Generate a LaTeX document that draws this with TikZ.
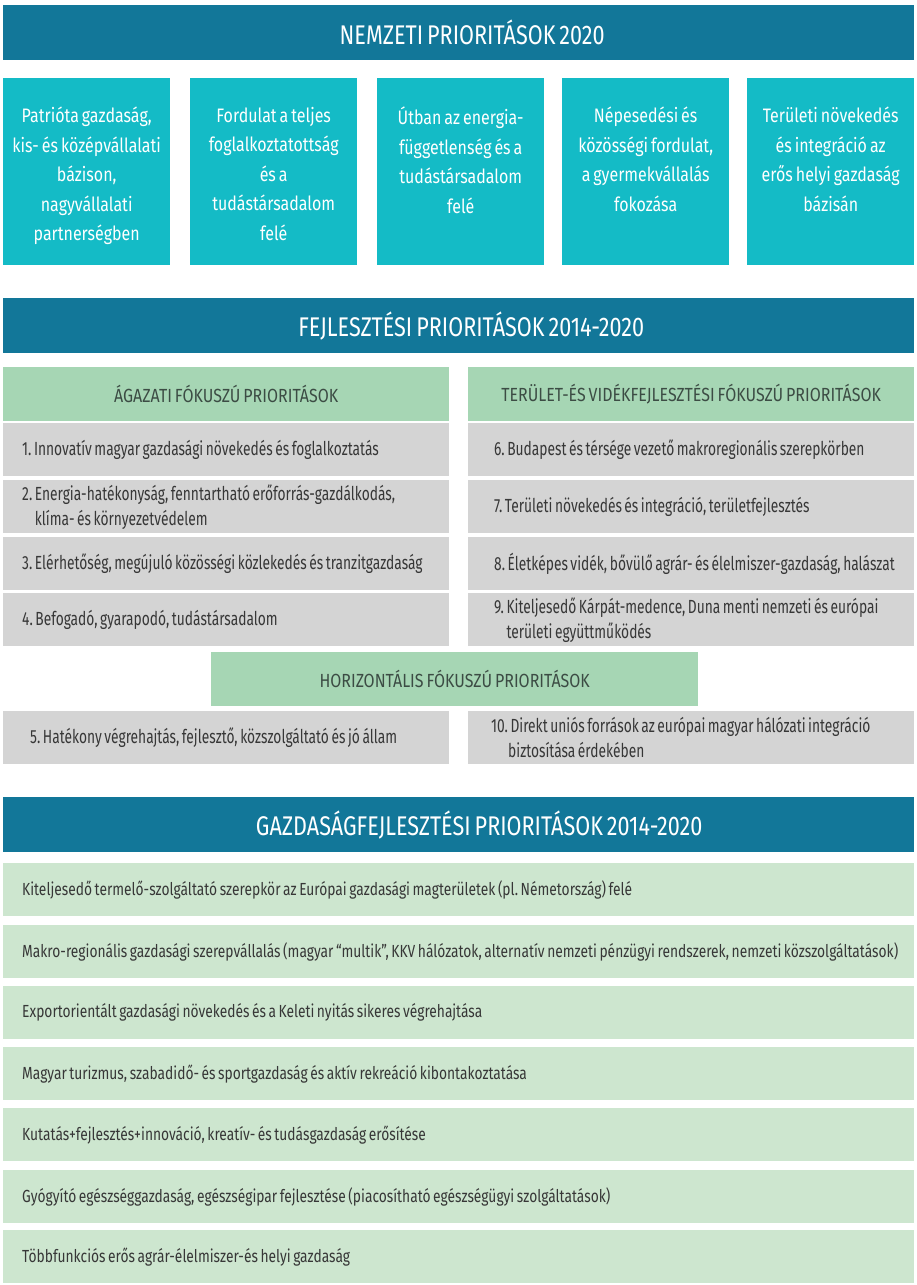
\documentclass[tikz,border=0pt]{standalone}
\usepackage{fontspec}
\setmainfont[FakeStretch=0.7, WordSpace=0.7]{Fira Sans}
\newfontfamily\hdrfont[FakeStretch=0.80, WordSpace=0.7]{Fira Sans}
\newfontfamily\tealfont[FakeStretch=0.82, WordSpace=0.7]{Fira Sans}
\newfontfamily\subfont[FakeStretch=0.84, WordSpace=0.7]{Fira Sans}
\newfontfamily\rowfont[FakeStretch=0.725, WordSpace=0.7]{Fira Sans}
\newfontfamily\bfont[FakeStretch=0.788, WordSpace=0.7]{Fira Sans}
\frenchspacing
\definecolor{hdrblue}{RGB}{18,119,153}
\definecolor{tealc}{RGB}{20,187,198}
\definecolor{greenh}{RGB}{166,214,180}
\definecolor{grayc}{RGB}{212,212,212}
\definecolor{lgreen}{RGB}{205,230,207}
\definecolor{rowtxt}{RGB}{55,55,55}
\definecolor{subtxt}{RGB}{60,76,68}
\tikzset{
  hdr/.style={fill=hdrblue, text=white, anchor=north west, inner sep=0pt,
    minimum width=911pt, minimum height=55pt, font=\hdrfont\fontsize{27}{30}\selectfont},
  tealbox/.style={fill=tealc, anchor=north west, inner sep=0pt,
    minimum width=167pt, minimum height=187pt},
  tealtxt/.style={text=white, anchor=north, inner sep=0pt, align=center,
    font=\tealfont\fontsize{19.5}{29.5}\selectfont},
  subhdr/.style={fill=greenh, text=subtxt, anchor=north west, inner sep=0pt,
    minimum height=54pt, font=\subfont\fontsize{19}{22}\selectfont},
  graybox/.style={fill=grayc, anchor=north west, inner sep=0pt,
    minimum width=446pt, minimum height=53pt},
  rowtext/.style={text=rowtxt, anchor=west, inner sep=0pt, align=left,
    font=\rowfont\fontsize{19}{25}\selectfont},
  greenbox/.style={fill=lgreen, anchor=north west, inner sep=0pt,
    minimum width=911pt, minimum height=53pt},
  btext/.style={text=rowtxt, anchor=west, inner sep=0pt, align=left,
    font=\bfont\fontsize{17.5}{24}\selectfont},
}
\begin{document}
\begin{tikzpicture}[x=1pt,y=-1pt]
\useasboundingbox[fill=white] (0,0) rectangle (916,1285);
% ---- Nemzeti prioritasok
\node[hdr] (h1) at (3,5) {\hspace*{27pt}NEMZETI PRIORITÁSOK 2020};
\node[tealbox] (t1) at (3,78) {};
\node[tealbox] (t2) at (190,78) {};
\node[tealbox] (t3) at (377,78) {};
\node[tealbox] (t4) at (562,78) {};
\node[tealbox] (t5) at (747,78) {};
\node[tealtxt] (tt1) at ([yshift=-29pt]t1.north) {Patrióta gazdaság,\\kis- és középvállalati\\bázison,\\nagyvállalati\\partnerségben};
\node[tealtxt] (tt2) at ([yshift=-29pt]t2.north) {Fordulat a teljes\\foglalkoztatottság\\és a\\tudástársadalom\\felé};
\node[tealtxt] (tt3) at ([yshift=-29pt]t3.north) {Útban az energia-\\függetlenség és a\\tudástársadalom\\felé};
\node[tealtxt] (tt4) at ([yshift=-29pt]t4.north) {Népesedési és\\közösségi fordulat,\\a gyermekvállalás\\fokozása};
\node[tealtxt] (tt5) at ([yshift=-29pt]t5.north) {Területi növekedés\\és integráció az\\erős helyi gazdaság\\bázisán};
% ---- Fejlesztesi prioritasok
\node[hdr] (h2) at (3,298) {\hspace*{25pt}FEJLESZTÉSI PRIORITÁSOK 2014-2020};
\node[subhdr, minimum width=446pt] (sl) at (3,367) {ÁGAZATI FÓKUSZÚ PRIORITÁSOK};
\node[subhdr, minimum width=446pt] (sr) at (468,367) {TERÜLET-ÉS VIDÉKFEJLESZTÉSI FÓKUSZÚ PRIORITÁSOK};
\node[graybox] (g1) at (3,423) {};
\node[graybox] (g2) at (3,480) {};
\node[graybox] (g3) at (3,537) {};
\node[graybox] (g4) at (3,593) {};
\node[graybox] (g6) at (468,423) {};
\node[graybox] (g7) at (468,480) {};
\node[graybox] (g8) at (468,537) {};
\node[graybox] (g9) at (468,593) {};
\node[rowtext] (r1) at ([xshift=19pt]g1.west) {1. Innovatív magyar gazdasági növekedés és foglalkoztatás};
\node[rowtext] (r2) at ([xshift=19pt]g2.west) {2. Energia-hatékonyság, fenntartható erőforrás-gazdálkodás,\\\phantom{2. }klíma- és környezetvédelem};
\node[rowtext] (r3) at ([xshift=19pt]g3.west) {3. Elérhetőség, megújuló közösségi közlekedés és tranzitgazdaság};
\node[rowtext] (r4) at ([xshift=19pt]g4.west) {4. Befogadó, gyarapodó, tudástársadalom};
\node[rowtext] (r6) at ([xshift=26pt]g6.west) {6. Budapest és térsége vezető makroregionális szerepkörben};
\node[rowtext] (r7) at ([xshift=26pt]g7.west) {7. Területi növekedés és integráció, területfejlesztés};
\node[rowtext] (r8) at ([xshift=26pt]g8.west) {8. Életképes vidék, bővülő agrár- és élelmiszer-gazdaság, halászat};
\node[rowtext] (r9) at ([xshift=26pt]g9.west) {9. Kiteljesedő Kárpát-medence, Duna menti nemzeti és európai\\\phantom{9. }területi együttműködés};
\node[subhdr, minimum width=487pt] (sh) at (211,652) {HORIZONTÁLIS FÓKUSZÚ PRIORITÁSOK};
\node[graybox] (g5) at (3,711) {};
\node[graybox] (g10) at (468,711) {};
\node[rowtext] (r5) at ([xshift=27pt]g5.west) {5. Hatékony végrehajtás, fejlesztő, közszolgáltató és jó állam};
\node[rowtext] (r10) at ([xshift=23pt]g10.west) {10. Direkt uniós források az európai magyar hálózati integráció\\\hspace*{17pt}biztosítása érdekében};
% ---- Gazdasagfejlesztesi prioritasok
\node[hdr] (h3) at (3,797) {\hspace*{41pt}GAZDASÁGFEJLESZTÉSI PRIORITÁSOK 2014-2020};
\node[greenbox] (e1) at (3,863) {};
\node[greenbox] (e2) at (3,925) {};
\node[greenbox] (e3) at (3,986) {};
\node[greenbox] (e4) at (3,1047) {};
\node[greenbox] (e5) at (3,1108) {};
\node[greenbox] (e6) at (3,1170) {};
\node[greenbox] (e7) at (3,1230) {};
\node[btext] (b1) at ([xshift=19pt]e1.west) {Kiteljesedő termelő-szolgáltató szerepkör az Európai gazdasági magterületek (pl. Németország) felé};
\node[btext] (b2) at ([xshift=19pt]e2.west) {Makro-regionális gazdasági szerepvállalás (magyar “multik”, KKV hálózatok, alternatív nemzeti pénzügyi rendszerek, nemzeti közszolgáltatások)};
\node[btext] (b3) at ([xshift=19pt]e3.west) {Exportorientált gazdasági növekedés és a Keleti nyitás sikeres végrehajtása};
\node[btext] (b4) at ([xshift=19pt]e4.west) {Magyar turizmus, szabadidő- és sportgazdaság és aktív rekreáció kibontakoztatása};
\node[btext] (b5) at ([xshift=19pt]e5.west) {Kutatás+fejlesztés+innováció, kreatív- és tudásgazdaság erősítése};
\node[btext] (b6) at ([xshift=19pt]e6.west) {Gyógyító egészséggazdaság, egészségipar fejlesztése (piacosítható egészségügyi szolgáltatások)};
\node[btext] (b7) at ([xshift=19pt]e7.west) {Többfunkciós erős agrár-élelmiszer-és helyi gazdaság};
\end{tikzpicture}
\end{document}
